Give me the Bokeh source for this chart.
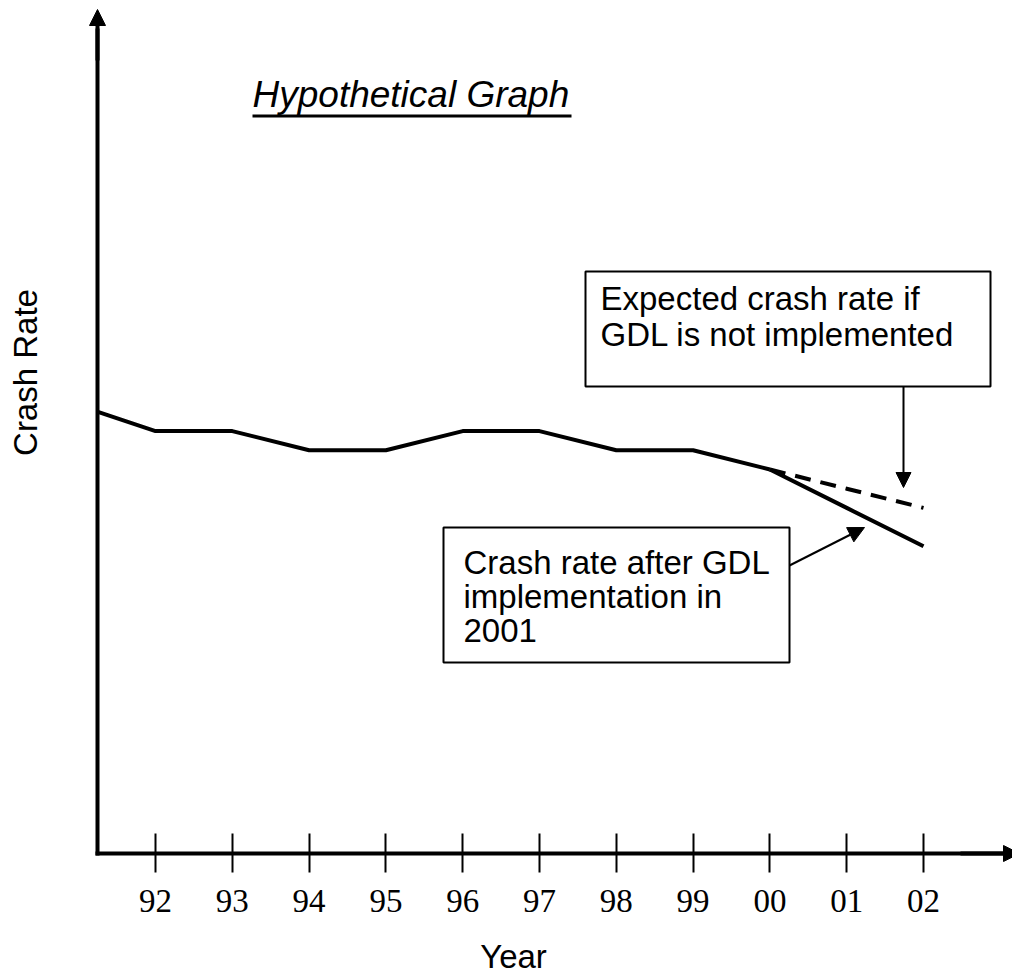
from bokeh.plotting import figure
from bokeh.models import Range1d, FixedTicker, Label, Arrow, NormalHead, LinearAxis
from bokeh.embed import file_html
from bokeh.resources import INLINE
import math

# ---------------- data ----------------
years = [91.25, 92, 93, 94, 95, 96, 97, 98, 99, 100]
crash_rate = [23, 22, 22, 21, 21, 22, 22, 21, 21, 20]
years_after = [100, 101, 102]
rate_after_gdl = [20, 18, 16]
rate_expected = [20, 19, 18]
tick_years = [92, 93, 94, 95, 96, 97, 98, 99, 100, 101, 102]
tick_labels = ["92", "93", "94", "95", "96", "97", "98", "99", "00", "01", "02"]

# ---------------- layout helpers (page pixel -> data) ----------------
X0_PX, X0_YEAR, PX_PER_YEAR = 155.0, 92.0, 76.8
Y0_PX, PX_PER_UNIT = 853.0, 19.2

def dx(px):
    return X0_YEAR + (px - X0_PX) / PX_PER_YEAR

def dy(py):
    return (Y0_PX - py) / PX_PER_UNIT

W, H = 1012, 974
BASE_SHIFT = 13  # Label alphabetic-baseline correction (px)

p = figure(width=W, height=H, output_backend="svg", toolbar_location=None,
           x_range=Range1d(dx(0), dx(W)), y_range=Range1d(dy(H), dy(0)),
           min_border=0, min_border_left=0, min_border_right=0,
           min_border_top=0, min_border_bottom=0,
           x_axis_location=None, y_axis_location=None)
p.outline_line_color = None
p.xgrid.visible = False
p.ygrid.visible = False
p.background_fill_color = "white"
p.border_fill_color = "white"

# x axis (fixed inside the frame at crash rate 0)
xa = LinearAxis(fixed_location=0, ticker=FixedTicker(ticks=tick_years),
                bounds=(dx(97), dx(1005)),
                major_label_overrides={t: l for t, l in zip(tick_years, tick_labels)})
xa.axis_line_width = 4
xa.axis_line_color = "black"
xa.axis_line_cap = "square"
xa.major_tick_in = 20
xa.major_tick_out = 19
xa.major_tick_line_width = 2
xa.major_tick_line_color = "black"
xa.minor_tick_in = 0
xa.minor_tick_out = 0
xa.major_label_text_font = "Liberation Serif"
xa.major_label_text_font_size = "33px"
xa.major_label_text_color = "black"
xa.major_label_standoff = 17
p.add_layout(xa, "below")

# y axis (line only)
ya = LinearAxis(fixed_location=dx(97), ticker=FixedTicker(ticks=[]), bounds=(0, dy(30)))
ya.axis_line_width = 4
ya.axis_line_color = "black"
ya.axis_line_cap = "square"
ya.major_tick_in = 0
ya.major_tick_out = 0
ya.minor_tick_in = 0
ya.minor_tick_out = 0
ya.major_label_text_font_size = "0px"
p.add_layout(ya, "left")

# axis arrow heads
p.add_layout(Arrow(end=NormalHead(size=16, fill_color="black", line_color="black", line_width=1),
                   x_start=dx(97), y_start=dy(60), x_end=dx(97), y_end=dy(9),
                   line_width=4, line_color="black"))
p.add_layout(Arrow(end=NormalHead(size=16, fill_color="black", line_color="black", line_width=1),
                   x_start=dx(960), y_start=dy(853), x_end=dx(1019), y_end=dy(853),
                   line_width=4, line_color="black"))

# data lines
p.line(years, crash_rate, line_width=4, line_color="black", line_join="round")
p.line(years_after, rate_after_gdl, line_width=4, line_color="black")
p.line(years_after, rate_expected, line_width=4, line_color="black", line_dash="16 10")

# annotation boxes
p.quad(left=[dx(585)], right=[dx(990)], top=[dy(271)], bottom=[dy(386)],
       fill_color="white", line_color="black", line_width=2)
p.quad(left=[dx(443)], right=[dx(789)], top=[dy(527)], bottom=[dy(662)],
       fill_color="white", line_color="black", line_width=2)

sans = "Liberation Sans"
for txt, bx, by in [("Expected crash rate if", 600, 311),
                    ("GDL is not implemented", 600, 347),
                    ("Crash rate after GDL", 463, 575),
                    ("implementation in", 463, 609),
                    ("2001", 463, 643)]:
    p.add_layout(Label(x=dx(bx), y=dy(by - BASE_SHIFT), text=txt, text_font=sans,
                       text_font_size="33px", text_color="black",
                       text_align="left", text_baseline="alphabetic"))

# pointer arrows
p.add_layout(Arrow(end=NormalHead(size=15, fill_color="black", line_color="black", line_width=1),
                   x_start=dx(903), y_start=dy(386), x_end=dx(903), y_end=dy(487),
                   line_width=2, line_color="black"))
p.add_layout(Arrow(end=NormalHead(size=16, fill_color="black", line_color="black", line_width=1),
                   x_start=dx(789), y_start=dy(565), x_end=dx(864), y_end=dy(527),
                   line_width=2, line_color="black"))

# title (italic, underlined)
p.add_layout(Label(x=dx(252), y=dy(108 - 14), text="Hypothetical Graph", text_font=sans,
                   text_font_size="37px", text_font_style="italic", text_color="black",
                   text_align="left", text_baseline="alphabetic"))
p.segment(x0=[dx(252)], y0=[dy(115.5)], x1=[dx(571)], y1=[dy(115.5)],
          line_width=3, line_color="black")

# axis titles
p.add_layout(Label(x=dx(38 - BASE_SHIFT), y=dy(372), text="Crash Rate", text_font=sans,
                   text_font_size="33px", text_color="black", text_align="center",
                   text_baseline="alphabetic", angle=math.pi / 2))
p.add_layout(Label(x=dx(513), y=dy(969 - BASE_SHIFT), text="Year", text_font=sans,
                   text_font_size="33px", text_color="black", text_align="center",
                   text_baseline="alphabetic"))

open("out.html", "w").write(file_html(p, INLINE))
